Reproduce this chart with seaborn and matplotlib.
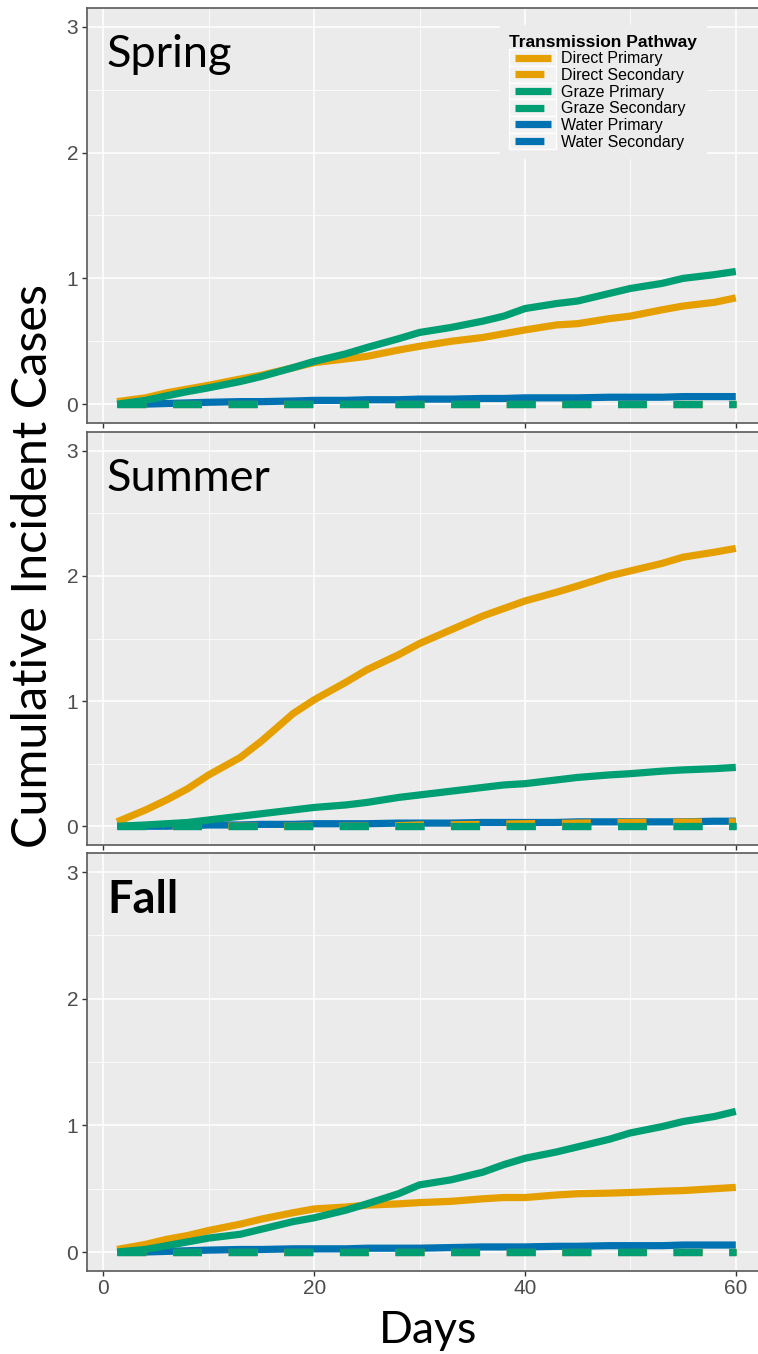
import numpy as np
import pandas as pd
import matplotlib
matplotlib.use("Agg")
import matplotlib.pyplot as plt
import seaborn as sns
from matplotlib.lines import Line2D
from matplotlib.patches import Rectangle
from matplotlib.legend_handler import HandlerBase
from matplotlib.ticker import MultipleLocator

# ---- data -----------------------------------------------------------------
days = [1.3, 4, 6, 8, 10, 13, 15, 18, 20, 23, 25, 28, 30, 33, 36, 38, 40,
        43, 45, 48, 50, 53, 55, 58, 60]

seasons = ["Spring", "Summer", "Fall"]
pathways = ["Direct Primary", "Direct Secondary", "Graze Primary",
            "Graze Secondary", "Water Primary", "Water Secondary"]

zeros = [0.0] * len(days)

spring_direct_primary = [0.02, 0.05, 0.09, 0.12, 0.15, 0.20, 0.23, 0.29, 0.33, 0.36,
                         0.38, 0.43, 0.46, 0.50, 0.53, 0.56, 0.59, 0.63, 0.64, 0.68,
                         0.70, 0.75, 0.78, 0.81, 0.845]
spring_graze_primary = [0.0, 0.03, 0.066, 0.10, 0.13, 0.18, 0.22, 0.29, 0.34, 0.40,
                        0.45, 0.52, 0.57, 0.61, 0.66, 0.70, 0.76, 0.80, 0.82, 0.88,
                        0.92, 0.96, 1.00, 1.03, 1.055]
spring_water_primary = [0, 0, 0.005, 0.01, 0.015, 0.02, 0.02, 0.025, 0.03, 0.03,
                        0.035, 0.035, 0.04, 0.04, 0.045, 0.045, 0.05, 0.05, 0.05, 0.055,
                        0.055, 0.055, 0.06, 0.06, 0.06]

summer_direct_primary = [0.035, 0.13, 0.21, 0.30, 0.41, 0.55, 0.68, 0.90, 1.01, 1.15,
                         1.25, 1.37, 1.46, 1.57, 1.68, 1.74, 1.80, 1.87, 1.92, 2.00,
                         2.04, 2.10, 2.15, 2.19, 2.22]
summer_direct_secondary = [0, 0, 0, 0, 0, 0, 0, 0, 0, 0,
                           0, 0.005, 0.01, 0.012, 0.015, 0.018, 0.02, 0.022, 0.025, 0.028,
                           0.03, 0.032, 0.033, 0.035, 0.035]
summer_graze_primary = [0.0, 0.01, 0.02, 0.03, 0.05, 0.08, 0.10, 0.13, 0.15, 0.17,
                        0.19, 0.23, 0.25, 0.28, 0.31, 0.33, 0.34, 0.37, 0.39, 0.41,
                        0.42, 0.44, 0.45, 0.46, 0.47]
summer_water_primary = [0, 0, 0, 0.005, 0.01, 0.01, 0.015, 0.015, 0.02, 0.02,
                        0.02, 0.025, 0.025, 0.025, 0.03, 0.03, 0.03, 0.03, 0.035, 0.035,
                        0.035, 0.035, 0.035, 0.04, 0.04]

fall_direct_primary = [0.02, 0.06, 0.10, 0.13, 0.17, 0.22, 0.26, 0.31, 0.34, 0.355,
                       0.37, 0.38, 0.39, 0.40, 0.42, 0.43, 0.43, 0.45, 0.46, 0.465,
                       0.47, 0.48, 0.485, 0.50, 0.51]
fall_graze_primary = [0.0, 0.02, 0.05, 0.08, 0.11, 0.14, 0.18, 0.24, 0.27, 0.33,
                      0.38, 0.46, 0.53, 0.57, 0.63, 0.69, 0.74, 0.79, 0.83, 0.89,
                      0.94, 0.99, 1.03, 1.07, 1.11]
fall_water_primary = [0, 0, 0.005, 0.01, 0.015, 0.02, 0.02, 0.025, 0.025, 0.025,
                      0.03, 0.03, 0.03, 0.035, 0.04, 0.04, 0.04, 0.045, 0.045, 0.05,
                      0.05, 0.05, 0.055, 0.055, 0.055]

series = {
    "Spring": {"Direct Primary": spring_direct_primary, "Direct Secondary": zeros,
               "Graze Primary": spring_graze_primary, "Graze Secondary": zeros,
               "Water Primary": spring_water_primary, "Water Secondary": zeros},
    "Summer": {"Direct Primary": summer_direct_primary, "Direct Secondary": summer_direct_secondary,
               "Graze Primary": summer_graze_primary, "Graze Secondary": zeros,
               "Water Primary": summer_water_primary, "Water Secondary": zeros},
    "Fall": {"Direct Primary": fall_direct_primary, "Direct Secondary": zeros,
             "Graze Primary": fall_graze_primary, "Graze Secondary": zeros,
             "Water Primary": fall_water_primary, "Water Secondary": zeros},
}

rows = []
for s in seasons:
    for p in pathways:
        for d, v in zip(days, series[s][p]):
            rows.append({"season": s, "pathway": p, "day": d, "cases": v})
df = pd.DataFrame(rows)

# ---- styling --------------------------------------------------------------
sns.set_style({"axes.facecolor": "#EBEBEB", "grid.color": "white",
               "axes.edgecolor": "#595959", "figure.facecolor": "white"})
plt.rcParams["font.family"] = ["Liberation Sans", "DejaVu Sans"]

colors = {"Direct": "#E69F00", "Graze": "#009E73", "Water": "#0072B2"}
LW = 5.2
DASH = (0, (4.0, 3.7))
draw_order = ["Water Secondary", "Water Primary", "Direct Secondary",
              "Graze Secondary", "Direct Primary", "Graze Primary"]


class KeyHandler(HandlerBase):
    """Legend key: light grey tile with a short line sample on top."""

    def create_artists(self, legend, orig_handle, xdescent, ydescent,
                       width, height, fontsize, trans):
        x0, y0 = -xdescent, -ydescent
        tile = Rectangle((x0, y0 - 1), width, height + 2, facecolor="#F2F2F2",
                         edgecolor="white", lw=1.0, transform=trans)
        ln = Line2D([0, 1], [0, 1])
        ln.update_from(orig_handle)
        ln.set_data([x0 + 4, x0 + width - 4], [y0 + height / 2, y0 + height / 2])
        ln.set_transform(trans)
        return [tile, ln]


fig = plt.figure(figsize=(7.58, 13.54), dpi=100)
H = 1354.0
W = 758.0
left = 86.5 / W
width = (769.5 - 86.5) / W
panels = [(8, 423), (432, 845), (853, 1271)]
label_weights = {"Spring": "normal", "Summer": "normal", "Fall": "bold"}

axes = []
for i, s in enumerate(seasons):
    top, bot = panels[i]
    ax = fig.add_axes([left, 1 - bot / H, width, (bot - top) / H])
    axes.append(ax)
    for p in draw_order:
        sub = df[(df.season == s) & (df.pathway == p)]
        ls = "-" if p.endswith("Primary") else DASH
        sns.lineplot(data=sub, x="day", y="cases", ax=ax, color=colors[p.split()[0]],
                     lw=LW, linestyle=ls, estimator=None, sort=False, legend=False,
                     solid_capstyle="butt", dash_capstyle="butt", zorder=3)
    ax.set_xlim(-1.6, 63.2)
    ax.set_ylim(-0.15, 3.15)
    ax.xaxis.set_major_locator(MultipleLocator(20))
    ax.xaxis.set_minor_locator(MultipleLocator(10))
    ax.yaxis.set_major_locator(MultipleLocator(1))
    ax.yaxis.set_minor_locator(MultipleLocator(0.5))
    ax.grid(which="major", color="white", lw=1.1)
    ax.grid(which="minor", color="white", lw=0.55)
    ax.set_axisbelow(True)
    ax.set_xlabel("")
    ax.set_ylabel("")
    for sp in ax.spines.values():
        sp.set_color("#595959")
        sp.set_linewidth(1.2)
    ax.tick_params(axis="both", which="major", length=3.5, width=1.0, color="#333333",
                   labelsize=15, labelcolor="#4D4D4D", pad=2.5)
    ax.tick_params(axis="both", which="minor", length=0)
    if i < 2:
        ax.tick_params(axis="x", labelbottom=False)
    ax.text(0.03, 0.857, s, transform=ax.transAxes, fontsize=32.5, family="Lato",
            fontweight=label_weights[s], color="black", va="baseline", ha="left")

# legend in the top panel
handles = []
for p in pathways:
    ls = "-" if p.endswith("Primary") else DASH
    handles.append(Line2D([0], [0], color=colors[p.split()[0]], lw=LW, linestyle=ls,
                          solid_capstyle="butt", dash_capstyle="butt"))
leg = axes[0].legend(handles, pathways, title="Transmission Pathway", loc="upper left",
                     bbox_to_anchor=(0.605, 0.959), fontsize=11.5, title_fontsize=12.5,
                     frameon=True, fancybox=False, framealpha=1, edgecolor="white",
                     handlelength=2.95, handleheight=0.95, handletextpad=0.3,
                     labelspacing=0.08, borderpad=0.6, borderaxespad=0,
                     alignment="left", handler_map={Line2D: KeyHandler()})
leg.get_title().set_fontweight("bold")
leg.get_frame().set_linewidth(0)

fig.text(33 / W, 1 - 566 / H, "Cumulative Incident Cases", rotation=90, ha="center",
         va="center", fontsize=35, family="Lato")
fig.text(428 / W, 1 - 1343 / H, "Days", ha="center", va="baseline", fontsize=32,
         family="Lato")

fig.savefig("out.png", dpi=100)
